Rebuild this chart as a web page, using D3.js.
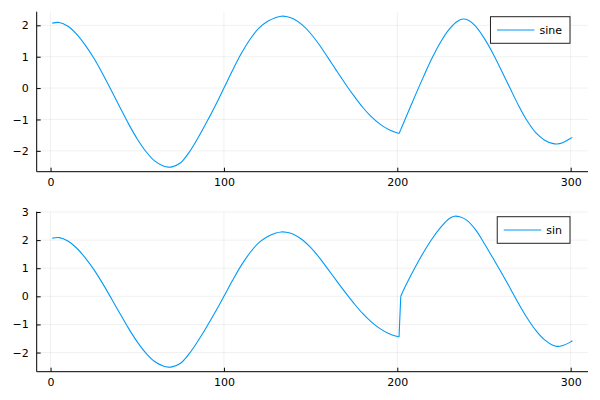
<!DOCTYPE html>
<html>
<head>
<meta charset="utf-8">
<script src="https://cdn.jsdelivr.net/npm/d3@7"></script>
<style>
  html, body { margin: 0; padding: 0; background: #fff; }
  svg { display: block; }
  text { font-family: "DejaVu Sans", sans-serif; fill: #000; }
</style>
</head>
<body>
<svg id="chart" width="600" height="400"></svg>
<script>
// ---- Data ----
const sharedX = [1, 5, 10, 15, 20, 25, 30, 35, 40, 45, 50, 55, 60, 65, 68, 70, 75, 80, 85, 90, 95, 100, 105, 110, 115, 120, 125, 130, 133, 136, 140, 145, 150, 155, 160, 165, 170, 175, 180, 185, 190, 195, 201];
const sharedY = [2.07, 2.09, 1.97, 1.72, 1.37, 0.95, 0.46, -0.07, -0.61, -1.14, -1.62, -2.02, -2.32, -2.48, -2.52, -2.51, -2.38, -2.04, -1.59, -1.09, -0.56, 0.00, 0.57, 1.10, 1.55, 1.90, 2.12, 2.25, 2.29, 2.28, 2.21, 2.02, 1.74, 1.38, 0.97, 0.55, 0.14, -0.25, -0.61, -0.91, -1.15, -1.32, -1.45];

const sineTailX = [202, 205, 210, 215, 220, 225, 230, 235, 238, 241, 245, 250, 255, 260, 265, 270, 275, 280, 285, 290, 292, 295, 300, 301];
const sineTailY = [-1.32, -0.93, -0.28, 0.35, 0.95, 1.47, 1.88, 2.14, 2.20, 2.16, 1.98, 1.60, 1.12, 0.57, 0.00, -0.56, -1.05, -1.43, -1.66, -1.77, -1.78, -1.75, -1.60, -1.57];

const sinTailX = [202, 205, 210, 215, 220, 225, 230, 233, 236, 240, 245, 250, 255, 260, 265, 270, 275, 280, 285, 290, 292, 295, 300, 301];
const sinTailY = [0.00, 0.40, 1.00, 1.55, 2.04, 2.45, 2.77, 2.85, 2.83, 2.71, 2.38, 1.90, 1.38, 0.85, 0.30, -0.26, -0.78, -1.22, -1.55, -1.75, -1.78, -1.76, -1.62, -1.58];

const seriesLabels = ["sine", "sin"];
const xTicks = [0, 100, 200, 300];
const yTicksTop = [-2, -1, 0, 1, 2];
const yTicksBottom = [-2, -1, 0, 1, 2, 3];

// ---- Build series ----
function zipXY(xs, ys) { return xs.map((x, i) => ({ x, y: ys[i] })); }
const seriesTop = zipXY(sharedX.concat(sineTailX), sharedY.concat(sineTailY));
const seriesBottom = zipXY(sharedX.concat(sinTailX), sharedY.concat(sinTailY));

// ---- Layout ----
const svg = d3.select("#chart");
const lineColor = "#009af9";
const panels = [
  { data: seriesTop, label: seriesLabels[0], yTicks: yTicksTop, top: 11.7, bottom: 171.7, splitX: 201 },
  { data: seriesBottom, label: seriesLabels[1], yTicks: yTicksBottom, top: 211.7, bottom: 371.7, splitX: 201 }
];
const left = 36.7, right = 588;

function widen(ext) {
  const pad = (ext[1] - ext[0]) * 0.03;
  return [ext[0] - pad, ext[1] + pad];
}

panels.forEach(p => {
  const x = d3.scaleLinear().domain(widen(d3.extent(p.data, d => d.x))).range([left, right]);
  const y = d3.scaleLinear().domain(widen(d3.extent(p.data, d => d.y))).range([p.bottom, p.top]);
  const g = svg.append("g");

  // grid
  g.append("g").selectAll("line").data(xTicks).join("line")
    .attr("x1", d => x(d)).attr("x2", d => x(d))
    .attr("y1", p.top).attr("y2", p.bottom)
    .attr("stroke", "#000").attr("stroke-opacity", 0.1).attr("stroke-width", 0.6);
  g.append("g").selectAll("line").data(p.yTicks).join("line")
    .attr("x1", left).attr("x2", right)
    .attr("y1", d => y(d)).attr("y2", d => y(d))
    .attr("stroke", "#000").attr("stroke-opacity", 0.1).attr("stroke-width", 0.6);

  // line: smooth pieces with a straight joint at the break
  const line = d3.line().x(d => x(d.x)).y(d => y(d.y)).curve(d3.curveCatmullRom.alpha(0.5));
  const partA = p.data.filter(d => d.x <= p.splitX);
  const partB = p.data.filter(d => d.x > p.splitX);
  const joinSeg = [partA[partA.length - 1], partB[0]];
  [partA, joinSeg, partB].forEach(seg => {
    g.append("path").datum(seg).attr("d", line)
      .attr("fill", "none").attr("stroke", lineColor).attr("stroke-width", 1.1)
      .attr("stroke-linejoin", "round");
  });

  // axes
  const xAxis = d3.axisBottom(x).tickValues(xTicks).tickFormat(d3.format("d"))
    .tickSizeInner(-4).tickSizeOuter(0).tickPadding(7);
  const gx = g.append("g").attr("transform", `translate(0,${p.bottom})`).call(xAxis);
  gx.select(".domain").attr("d", `M${left},0H${right}`).attr("stroke", "#000").attr("stroke-width", 1);
  gx.selectAll(".tick line").attr("stroke", "#000");
  gx.selectAll("text").attr("font-size", 11).attr("font-family", "DejaVu Sans, sans-serif").attr("fill", "#000");

  const yAxis = d3.axisLeft(y).tickValues(p.yTicks).tickFormat(d3.format("d"))
    .tickSizeInner(-4).tickSizeOuter(0).tickPadding(8);
  const gy = g.append("g").attr("transform", `translate(${left},0)`).call(yAxis);
  gy.select(".domain").attr("d", `M0,${p.top}V${p.bottom}`).attr("stroke", "#000").attr("stroke-width", 1);
  gy.selectAll(".tick line").attr("stroke", "#000");
  gy.selectAll("text").attr("font-size", 11).attr("font-family", "DejaVu Sans, sans-serif").attr("fill", "#000");

  // legend
  const lg = g.append("g");
  const boxTop = p.top + 5;
  const boxH = 26.6;
  const txt = lg.append("text").text(p.label).attr("font-size", 11)
    .attr("dominant-baseline", "central").attr("y", boxTop + boxH / 2);
  const tw = txt.node().getComputedTextLength();
  const boxRight = 570;
  const boxLeft = boxRight - (tw + 57);
  lg.insert("rect", "text").attr("x", boxLeft).attr("y", boxTop)
    .attr("width", boxRight - boxLeft).attr("height", boxH)
    .attr("fill", "#fff").attr("stroke", "#222").attr("stroke-width", 1);
  lg.append("line").attr("x1", boxLeft + 6.5).attr("x2", boxLeft + 44)
    .attr("y1", boxTop + boxH / 2).attr("y2", boxTop + boxH / 2)
    .attr("stroke", lineColor).attr("stroke-width", 1.1);
  txt.attr("x", boxLeft + 49);
});
</script>
</body>
</html>
